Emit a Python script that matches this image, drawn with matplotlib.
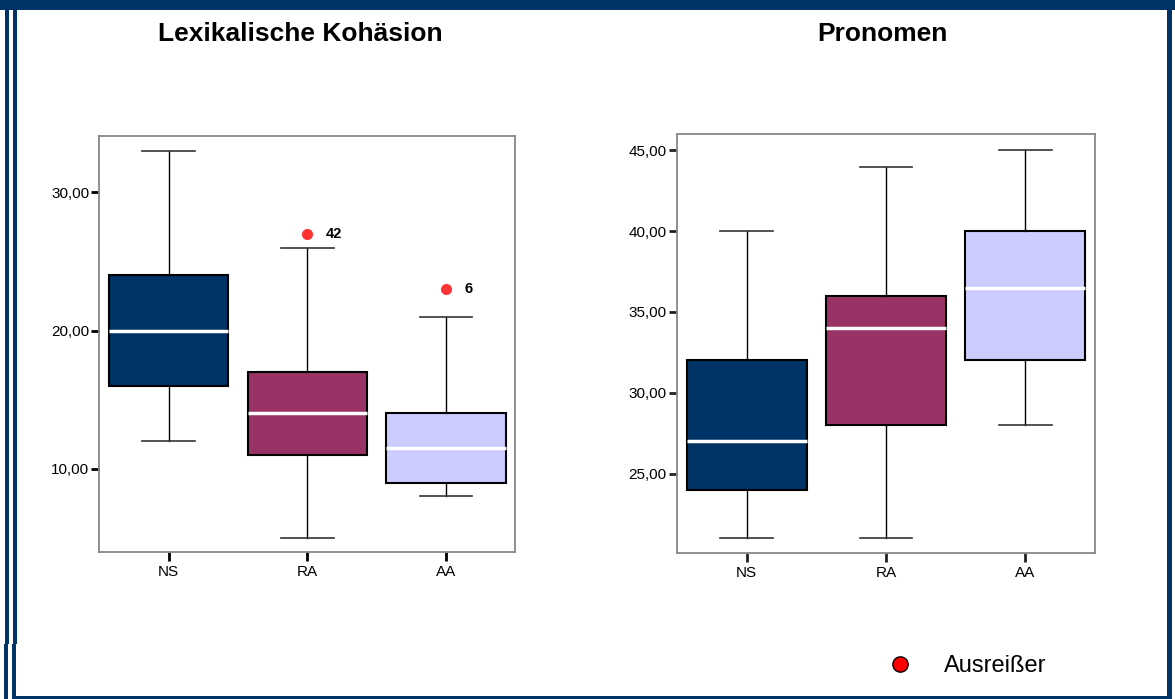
import matplotlib.pyplot as plt
from matplotlib.patches import Rectangle
from matplotlib.lines import Line2D

plt.rcParams['font.family'] = ['Liberation Sans', 'DejaVu Sans']

W, H = 1175, 699
NAVY = '#003366'

groups = ['NS', 'RA', 'AA']
colors = ['#003366', '#993366', '#CCCCFF']

# Lexikalische Kohäsion: five-number summaries per group
lex_whislo = [12, 5, 8]
lex_q1 = [16, 11, 9]
lex_med = [20, 14, 11.5]
lex_q3 = [24, 17, 14]
lex_whishi = [33, 26, 21]
lex_fliers = [[], [27], [23]]
lex_flier_ids = [[], ['42'], ['6']]
lex_yticks = [10, 20, 30]

# Pronomen
pro_whislo = [21, 21, 28]
pro_q1 = [24, 28, 32]
pro_med = [27, 34, 36.5]
pro_q3 = [32, 36, 40]
pro_whishi = [40, 44, 45]
pro_fliers = [[], [], []]
pro_flier_ids = [[], [], []]
pro_yticks = [25, 30, 35, 40, 45]


def px(x, y):
    return x / W, 1 - y / H


def de(v):
    return f'{v:.2f}'.replace('.', ',')


def panel(ax, lo, q1, med, q3, hi, fliers, ids, yticks, ylim, tickcol):
    stats = []
    for i in range(3):
        stats.append(dict(whislo=lo[i], q1=q1[i], med=med[i], q3=q3[i],
                          whishi=hi[i], fliers=fliers[i]))
    bp = ax.bxp(stats, positions=[1, 2, 3], widths=0.86, capwidths=0.38,
                patch_artist=True,
                boxprops=dict(edgecolor='black', linewidth=1.5),
                medianprops=dict(color='white', linewidth=2.5),
                whiskerprops=dict(color='black', linewidth=1),
                capprops=dict(color='#333333', linewidth=1.2),
                flierprops=dict(marker='o', markerfacecolor='#FF3333',
                                markeredgecolor='none', markersize=8))
    for patch, c in zip(bp['boxes'], colors):
        patch.set_facecolor(c)
    for i in range(3):
        for v, name in zip(fliers[i], ids[i]):
            ax.annotate(name, (i + 1, v), xytext=(13, 0), textcoords='offset points',
                        va='center', ha='left', fontsize=10.5, fontweight='bold')
    ax.set_xlim(0.5, 3.5)
    ax.set_ylim(*ylim)
    ax.set_xticks([1, 2, 3])
    ax.set_xticklabels(groups)
    ax.set_yticks(yticks)
    ax.set_yticklabels([de(v) for v in yticks])
    ax.tick_params(axis='y', direction='out', length=5.8, width=2, color=tickcol,
                   labelsize=11, pad=1.5)
    ax.tick_params(axis='x', direction='out', length=6.5, width=2, color=tickcol,
                   labelsize=11, pad=3)
    for s in ax.spines.values():
        s.set_color('#888888')
        s.set_linewidth(1.3)


fig = plt.figure(figsize=(W / 100, H / 100), dpi=100)

l, b = px(99.3, 551.7)
r, t = px(515.3, 135.7)
ax1 = fig.add_axes([l, b, r - l, t - b])
panel(ax1, lex_whislo, lex_q1, lex_med, lex_q3, lex_whishi, lex_fliers,
      lex_flier_ids, lex_yticks, (4.0, 34.1), 'black')

l, b = px(677, 552.7)
r, t = px(1095, 134.3)
ax2 = fig.add_axes([l, b, r - l, t - b])
panel(ax2, pro_whislo, pro_q1, pro_med, pro_q3, pro_whishi, pro_fliers,
      pro_flier_ids, pro_yticks, (20.1, 46.0), '#222222')

fig.text(*px(300, 34), 'Lexikalische Kohäsion', ha='center', va='center',
         fontsize=19, fontweight='bold')
fig.text(*px(882, 34), 'Pronomen', ha='center', va='center',
         fontsize=19, fontweight='bold')

handle = Line2D([], [], marker='o', linestyle='', markerfacecolor='#FF0000',
                markeredgecolor='black', markeredgewidth=1, markersize=11)
fig.legend([handle], ['Ausreißer'], loc='center left', bbox_to_anchor=px(888, 666),
           frameon=False, fontsize=17, handlelength=1, handletextpad=1.36,
           borderaxespad=0, borderpad=0)

# navy frame around the slide
frame = [(0, 0, W, 10), (5, 0, 4, 644), (13, 0, 4, 644), (4, 644, 4, 55),
         (12, 644, 4, 55), (1167, 0, 5, 699), (12, 696, 1160, 3)]
for x, y, w, h in frame:
    x0, y0 = px(x, y + h)
    fig.add_artist(Rectangle((x0, y0), w / W, h / H, transform=fig.transFigure,
                             facecolor=NAVY, edgecolor='none'))

fig.savefig('out.png', dpi=100)
